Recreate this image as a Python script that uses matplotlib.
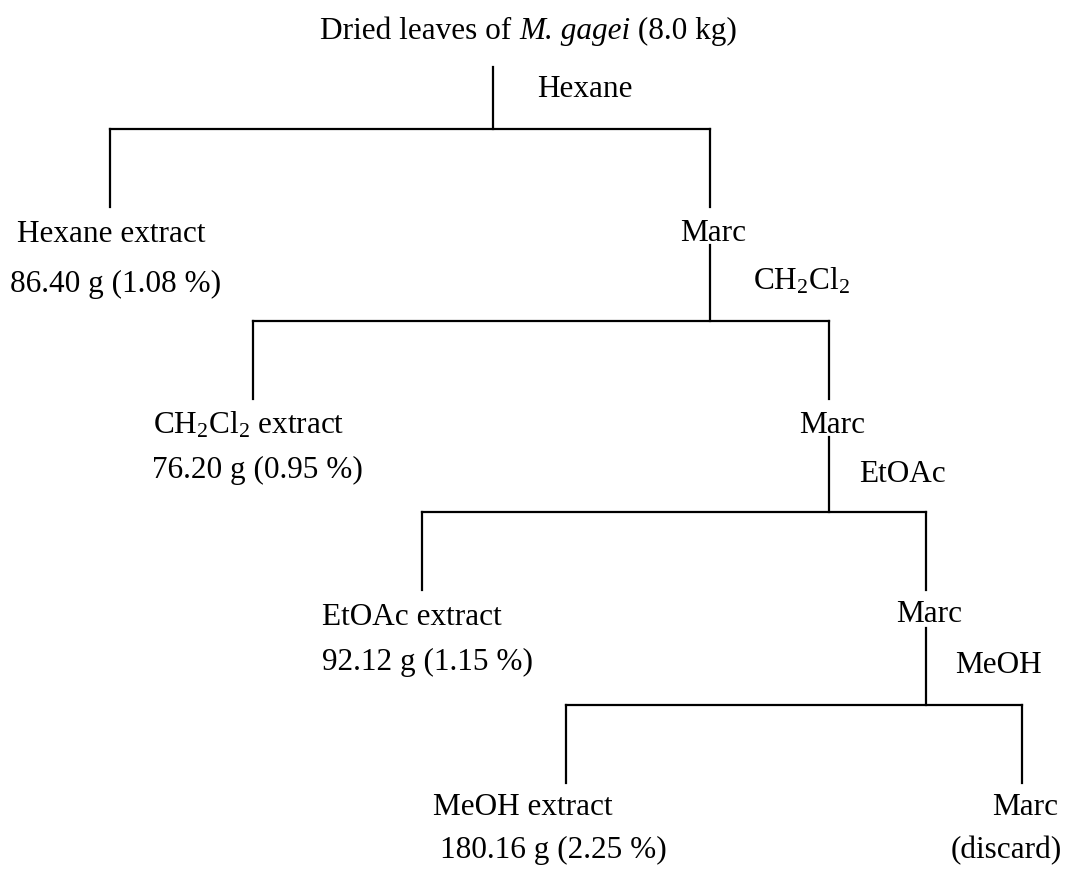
import matplotlib
matplotlib.use("Agg")
import matplotlib.pyplot as plt

plt.rcParams["mathtext.fontset"] = "custom"
plt.rcParams["mathtext.rm"] = "Liberation Serif"
plt.rcParams["mathtext.it"] = "Liberation Serif:italic"
plt.rcParams["mathtext.bf"] = "Liberation Serif:bold"

# ---- data ----
title_plain = "Dried leaves of "
title_species = "M. gagei"
title_mass = " (8.0 kg)"
solvents = ["Hexane", "CH$_2$Cl$_2$", "EtOAc", "MeOH"]
extracts = ["Hexane extract", "CH$_2$Cl$_2$ extract", "EtOAc extract", "MeOH extract"]
yield_g = ["86.40", "76.20", "92.12", "180.16"]
yield_pct = ["1.08", "0.95", "1.15", "2.25"]
residue_label = "Marc"
final_note = "(discard)"

# ---- layout (pixel coordinates, y downwards) ----
W, H = 1067, 877
fig = plt.figure(figsize=(W / 100, H / 100), dpi=100)
ax = fig.add_axes([0, 0, 1, 1])
ax.set_xlim(0, W)
ax.set_ylim(H, 0)
ax.axis("off")

FS = 22.5
FONT = "Liberation Serif"
LW = 1.6

def line(xs, ys):
    ax.plot(xs, ys, color="black", lw=LW, solid_capstyle="projecting")

def txt(x, y, s, ha="left", style="normal"):
    ax.text(x, y, s, ha=ha, va="baseline", fontsize=FS, family=FONT, style=style)

# title
t1 = ax.text(320, 39, title_plain, ha="left", va="baseline", fontsize=FS, family=FONT)
fig.canvas.draw()
r = fig.canvas.get_renderer()
bb = t1.get_window_extent(r).transformed(ax.transData.inverted())
t2 = ax.text(bb.x1, 39, title_species, ha="left", va="baseline", fontsize=FS, family=FONT, style="italic")
bb2 = t2.get_window_extent(r).transformed(ax.transData.inverted())
ax.text(bb2.x1, 39, title_mass, ha="left", va="baseline", fontsize=FS, family=FONT)

# per-level geometry
parent_x = [493, 710, 829, 926]
parent_top = [67, 245, 437, 628]
branch_y = [129, 321, 512, 705]
left_x = [110, 253, 422, 566]
right_x = [710, 829, 926, 1022]
branch_bottom = [207, 399, 590, 783]
solvent_pos = [(537, 97), (753, 289), (859, 482), (955, 673)]
extract_pos = [(17, 242), (153, 433), (322, 625), (433, 815)]
yield_pos = [(10, 292), (152, 478), (322, 670), (440, 858)]
marc_base = [241, 433, 622, 815]

for i in range(4):
    line([parent_x[i], parent_x[i]], [parent_top[i], branch_y[i]])
    line([left_x[i], right_x[i]], [branch_y[i], branch_y[i]])
    line([left_x[i], left_x[i]], [branch_y[i], branch_bottom[i]])
    line([right_x[i], right_x[i]], [branch_y[i], branch_bottom[i]])
    txt(*solvent_pos[i], solvents[i])
    txt(*extract_pos[i], extracts[i])
    txt(*yield_pos[i], f"{yield_g[i]} g ({yield_pct[i]} %)")
    txt(right_x[i] + 3, marc_base[i], residue_label, ha="center")

txt(1062, 858, final_note, ha="right")

fig.savefig("out.png", dpi=100, facecolor="white")
